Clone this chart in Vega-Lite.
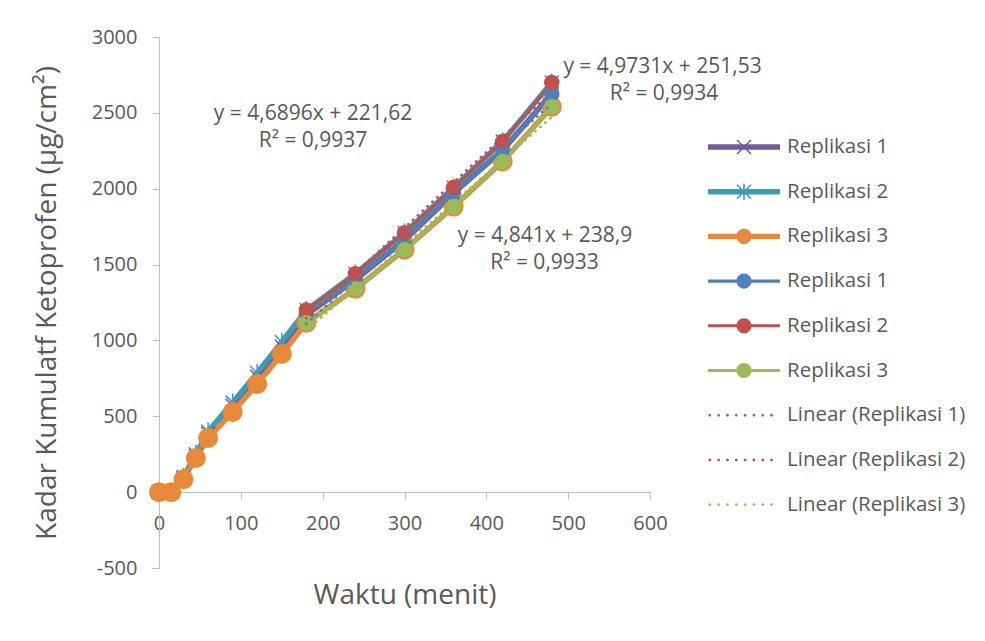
{
  "$schema": "https://vega.github.io/schema/vega-lite/v6.json",
  "width": 491,
  "height": 531,
  "autosize": {"type": "none"},
  "padding": {"left": 159, "top": 37, "right": 335, "bottom": 73},
  "background": "white",
  "config": {"view": {"stroke": null}, "font": "Open Sans"},
  "datasets": {
    "series": [
      {"s": "a1", "t": 0, "v": 0}, {"s": "a1", "t": 15, "v": 0}, {"s": "a1", "t": 30, "v": 95}, {"s": "a1", "t": 45, "v": 240}, {"s": "a1", "t": 60, "v": 385}, {"s": "a1", "t": 90, "v": 570}, {"s": "a1", "t": 120, "v": 760}, {"s": "a1", "t": 150, "v": 960}, {"s": "a1", "t": 180, "v": 1170}, {"s": "a1", "t": 240, "v": 1400}, {"s": "a1", "t": 300, "v": 1660}, {"s": "a1", "t": 360, "v": 1970}, {"s": "a1", "t": 420, "v": 2255}, {"s": "a1", "t": 480, "v": 2625},
      {"s": "a2", "t": 0, "v": 0}, {"s": "a2", "t": 15, "v": 0}, {"s": "a2", "t": 30, "v": 100}, {"s": "a2", "t": 45, "v": 250}, {"s": "a2", "t": 60, "v": 400}, {"s": "a2", "t": 90, "v": 590}, {"s": "a2", "t": 120, "v": 785}, {"s": "a2", "t": 150, "v": 990}, {"s": "a2", "t": 180, "v": 1200}, {"s": "a2", "t": 240, "v": 1440}, {"s": "a2", "t": 300, "v": 1710}, {"s": "a2", "t": 360, "v": 2008}, {"s": "a2", "t": 420, "v": 2312}, {"s": "a2", "t": 480, "v": 2700},
      {"s": "a3", "t": 0, "v": 0}, {"s": "a3", "t": 15, "v": 0}, {"s": "a3", "t": 30, "v": 85}, {"s": "a3", "t": 45, "v": 225}, {"s": "a3", "t": 60, "v": 357}, {"s": "a3", "t": 90, "v": 528}, {"s": "a3", "t": 120, "v": 713}, {"s": "a3", "t": 150, "v": 911}, {"s": "a3", "t": 180, "v": 1116}, {"s": "a3", "t": 240, "v": 1340}, {"s": "a3", "t": 300, "v": 1598}, {"s": "a3", "t": 360, "v": 1882}, {"s": "a3", "t": 420, "v": 2180}, {"s": "a3", "t": 480, "v": 2540},
      {"s": "b1", "t": 180, "v": 1170}, {"s": "b1", "t": 240, "v": 1400}, {"s": "b1", "t": 300, "v": 1660}, {"s": "b1", "t": 360, "v": 1970}, {"s": "b1", "t": 420, "v": 2255}, {"s": "b1", "t": 480, "v": 2625},
      {"s": "b2", "t": 180, "v": 1200}, {"s": "b2", "t": 240, "v": 1440}, {"s": "b2", "t": 300, "v": 1710}, {"s": "b2", "t": 360, "v": 2008}, {"s": "b2", "t": 420, "v": 2312}, {"s": "b2", "t": 480, "v": 2700},
      {"s": "b3", "t": 180, "v": 1116}, {"s": "b3", "t": 240, "v": 1340}, {"s": "b3", "t": 300, "v": 1598}, {"s": "b3", "t": 360, "v": 1882}, {"s": "b3", "t": 420, "v": 2180}, {"s": "b3", "t": 480, "v": 2540},
      {"s": "c1", "t": 180, "v": 1110.3}, {"s": "c1", "t": 480, "v": 2562.6},
      {"s": "c2", "t": 180, "v": 1146.7}, {"s": "c2", "t": 480, "v": 2638.6},
      {"s": "c3", "t": 180, "v": 1065.7}, {"s": "c3", "t": 480, "v": 2472.6}
    ],
    "labels": [
      {"t": 188.2, "v": 2492, "text": "y = 4,6896x + 221,62"},
      {"t": 188.2, "v": 2314, "text": "R² = 0,9937"},
      {"t": 615.3, "v": 2802, "text": "y = 4,9731x + 251,53"},
      {"t": 617.1, "v": 2624, "text": "R² = 0,9934"},
      {"t": 471.7, "v": 1688, "text": "y = 4,841x + 238,9"},
      {"t": 471.1, "v": 1510, "text": "R² = 0,9933"}
    ]
  },
  "encoding": {
    "x": {
      "field": "t", "type": "quantitative",
      "scale": {"domain": [0, 600], "nice": false, "zero": false},
      "axis": {
        "title": "Waktu (menit)", "values": [0, 100, 200, 300, 400, 500, 600],
        "offset": -76, "grid": false, "domainColor": "#BFBFBF", "tickColor": "#BFBFBF",
        "tickSize": 7, "labelPadding": 14, "labelFontSize": 20, "labelColor": "#595959",
        "labelFlush": false, "labelOverlap": false, "titleFontSize": 28, "titleColor": "#595959",
        "titleFontWeight": "normal", "titlePadding": 48
      }
    },
    "y": {
      "field": "v", "type": "quantitative",
      "scale": {"domain": [-500, 3000], "nice": false, "zero": false},
      "axis": {
        "title": "Kadar Kumulatf Ketoprofen (µg/cm²)", "values": [-500, 0, 500, 1000, 1500, 2000, 2500, 3000],
        "labelExpr": "'' + datum.value",
        "grid": false, "domainColor": "#BFBFBF", "tickColor": "#BFBFBF",
        "tickSize": 7, "labelPadding": 15, "labelFontSize": 20, "labelColor": "#595959",
        "labelFlush": false, "labelOverlap": false, "titleFontSize": 28, "titleColor": "#595959",
        "titleFontWeight": "normal", "titlePadding": 30
      }
    },
    "color": {
      "field": "s", "type": "nominal",
      "scale": {
        "domain": ["a1", "a2", "a3", "b1", "b2", "b3", "c1", "c2", "c3"],
        "range": ["#745A9E", "#3C9CB8", "#E8883A", "#4F81BD", "#C0504D", "#9BBB59", "#4F81BD", "#C0504D", "#9BBB59"]
      },
      "legend": {
        "title": null, "orient": "none", "legendX": 567, "legendY": 92,
        "symbolSize": 1296, "symbolStrokeWidth": 0, "rowPadding": 15.7, "labelOffset": 25,
        "labelFontSize": 20.5, "labelColor": "#595959", "labelFont": "Open Sans", "labelLimit": 400,
        "labelExpr": "datum.value[0]==='c' ? 'Linear (Replikasi ' + datum.value[1] + ')' : 'Replikasi ' + datum.value[1]",
        "encode": {
          "symbols": {
            "update": {
              "shape": {"signal": "datum.value==='a1' ? 'M-2,-0.15H2V0.15H-2ZM-0.36,-0.42L0.42,0.36L0.36,0.42L-0.42,-0.36ZM0.42,-0.36L-0.36,0.42L-0.42,0.36L0.36,-0.42Z' : datum.value==='a2' ? 'M-2,-0.15H2V0.15H-2ZM-0.36,-0.42L0.42,0.36L0.36,0.42L-0.42,-0.36ZM0.42,-0.36L-0.36,0.42L-0.42,0.36L0.36,-0.42ZM-0.045,-0.45H0.045V0.45H-0.045Z' : datum.value==='a3' ? 'M-2,-0.15H2V0.15H-2ZM0.42,0A0.42,0.42 0 1,1 -0.42,0A0.42,0.42 0 1,1 0.42,0Z' : datum.value[0]==='b' ? 'M-2,-0.085H2V0.085H-2ZM0.42,0A0.42,0.42 0 1,1 -0.42,0A0.42,0.42 0 1,1 0.42,0Z' : 'M-1.82,0A0.08,0.08 0 1,1 -1.98,0A0.08,0.08 0 1,1 -1.82,0ZM-1.33,0A0.08,0.08 0 1,1 -1.49,0A0.08,0.08 0 1,1 -1.33,0ZM-0.84,0A0.08,0.08 0 1,1 -1.0,0A0.08,0.08 0 1,1 -0.84,0ZM-0.35,0A0.08,0.08 0 1,1 -0.51,0A0.08,0.08 0 1,1 -0.35,0ZM0.14,0A0.08,0.08 0 1,1 -0.02,0A0.08,0.08 0 1,1 0.14,0ZM0.63,0A0.08,0.08 0 1,1 0.47,0A0.08,0.08 0 1,1 0.63,0ZM1.12,0A0.08,0.08 0 1,1 0.96,0A0.08,0.08 0 1,1 1.12,0ZM1.61,0A0.08,0.08 0 1,1 1.45,0A0.08,0.08 0 1,1 1.61,0Z'"},
              "fill": {"scale": "color", "field": "value"},
              "stroke": {"value": "transparent"},
              "strokeWidth": {"value": 0},
              "opacity": {"value": 1},
              "fillOpacity": {"value": 1},
              "size": {"value": 1296}
            }
          }
        }
      }
    }
  },
  "layer": [
    {
      "data": {"name": "series"},
      "transform": [{"filter": "datum.s[0]==='a'"}],
      "mark": {"type": "line", "strokeWidth": 5.5, "strokeCap": "round", "strokeJoin": "round"}
    },
    {
      "data": {"name": "series"},
      "transform": [{"filter": "datum.s==='a1'"}],
      "mark": {"type": "point", "shape": "M-1,-1L1,1M-1,1L1,-1", "filled": false, "size": 196, "strokeWidth": 1.5, "opacity": 1}
    },
    {
      "data": {"name": "series"},
      "transform": [{"filter": "datum.s==='a2'"}],
      "mark": {"type": "point", "shape": "M-1,-1L1,1M-1,1L1,-1M0,-1.3L0,1.3", "filled": false, "size": 196, "strokeWidth": 1.5, "opacity": 1}
    },
    {
      "data": {"name": "series"},
      "transform": [{"filter": "datum.s==='a3'"}],
      "mark": {"type": "point", "shape": "circle", "filled": true, "size": 400, "opacity": 1}
    },
    {
      "data": {"name": "series"},
      "transform": [{"filter": "datum.s[0]==='b'"}],
      "mark": {"type": "line", "strokeWidth": 3, "strokeCap": "round", "strokeJoin": "round"}
    },
    {
      "data": {"name": "series"},
      "transform": [{"filter": "datum.s[0]==='b'"}],
      "mark": {"type": "point", "shape": "circle", "filled": true, "size": 240, "opacity": 1}
    },
    {
      "data": {"name": "series"},
      "transform": [{"filter": "datum.s[0]==='c'"}],
      "mark": {"type": "line", "strokeWidth": 2.8, "strokeCap": "round", "strokeDash": [0.1, 6.5]}
    },
    {
      "data": {"name": "labels"},
      "mark": {"type": "text", "fontSize": 21, "align": "center", "baseline": "middle", "font": "Open Sans"},
      "encoding": {"text": {"field": "text"}, "color": {"value": "#595959"}}
    }
  ]
}
